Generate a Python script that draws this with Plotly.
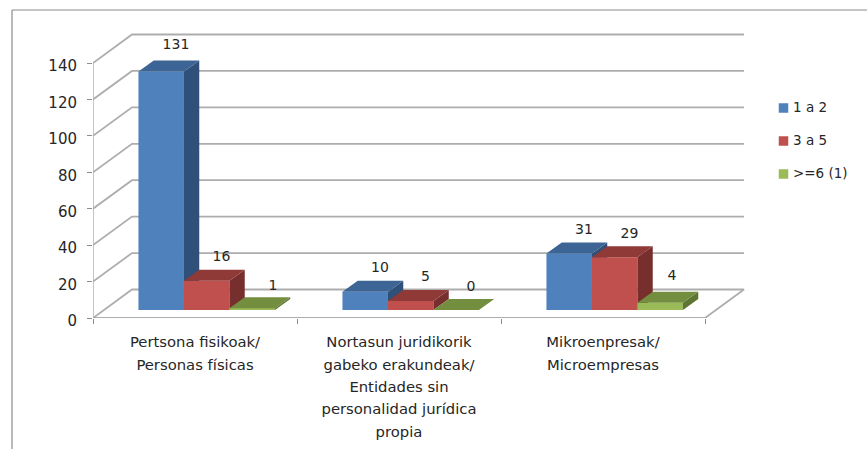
import plotly.graph_objects as go

categories = ["Pertsona fisikoak/<br>Personas físicas",
              "Nortasun juridikorik<br>gabeko erakundeak/<br>Entidades sin<br>personalidad jurídica<br>propia",
              "Mikroenpresak/<br>Microempresas"]
series_names = ["1 a 2", "3 a 5", ">=6 (1)"]
values_1a2 = [131, 10, 31]
values_3a5 = [16, 5, 29]
values_6plus = [1, 0, 4]
y_ticks = [0, 20, 40, 60, 80, 100, 120, 140]

W, H = 867, 449
L, R, T, B = 93, 867, 26, 318           # plot rectangle in pixels
X_PX = 204.0                            # pixels per category
Y_PX = 255 / 140                        # pixels per value unit
x_lo = -0.5
x_hi = x_lo + (R - L) / X_PX
y_hi = (B - T) / Y_PX

wall_dx, wall_dy = 39 / X_PX, 28.5 / Y_PX   # depth of the floor
bar_dx, bar_dy = 15.3 / X_PX, 11 / Y_PX     # depth of a bar
floor = 8 / Y_PX                            # front of the bars above the axis
bar_w = 45.5 / X_PX
shift = 11.7 / X_PX
x_end = 2.5

grey = "#adadad"
INK = "#262626"
LAB = "DejaVu Sans"
front = ["#4F81BD", "#C0504D", "#9BBB59"]
top_c = ["#3C6494", "#8F3A37", "#748E3F"]
side_c = ["#2F5079", "#772F2D", "#5E7433"]
series = [values_1a2, values_3a5, values_6plus]
# small pixel nudges (right, up) of individual data labels: (series, category)
nudge = {(0, 0): (0, 3), (2, 0): (6, -1), (2, 2): (-3, 3)}

fig = go.Figure()

# walls and floor
def line(xs, ys, width=1.8):
    fig.add_trace(go.Scatter(x=xs, y=ys, mode="lines", showlegend=False, hoverinfo="skip",
                             cliponaxis=False, line=dict(color=grey, width=width)))

for v in y_ticks[1:]:
    line([x_lo, x_lo + wall_dx, x_end + wall_dx], [v, v + wall_dy, v + wall_dy])
line([x_lo, x_lo + wall_dx, x_end + wall_dx, x_end, x_lo], [0, wall_dy, wall_dy, 0, 0])
line([x_lo, x_lo], [0, y_ticks[-1]], 1.4)

# one overlay per series, so each series paints over the previous one
for s, vals in enumerate(series):
    ax = str(s + 2)
    xa, ya = "x" + ax, "y" + ax
    offset = shift - 1.5 * bar_w + s * bar_w
    fig.add_trace(go.Bar(x=[0, 1, 2], y=vals, base=[floor] * 3, width=bar_w, offset=offset,
                         marker=dict(color=front[s], line_width=0), showlegend=False,
                         name=series_names[s], xaxis=xa, yaxis=ya))
    for c, v in enumerate(vals):
        x0 = c + offset
        x1 = x0 + bar_w
        h = floor + v
        fig.add_trace(go.Scatter(
            x=[x1, x1, x1 + bar_dx, x1 + bar_dx, x1], y=[floor, h, h + bar_dy, floor + bar_dy, floor],
            mode="lines", fill="toself", fillcolor=side_c[s], line=dict(width=0),
            showlegend=False, hoverinfo="skip", xaxis=xa, yaxis=ya))
        fig.add_trace(go.Scatter(
            x=[x0, x1, x1 + bar_dx, x0 + bar_dx, x0], y=[h, h, h + bar_dy, h + bar_dy, h],
            mode="lines", fill="toself", fillcolor=top_c[s], line=dict(width=0),
            showlegend=False, hoverinfo="skip", xaxis=xa, yaxis=ya))
    fig.add_trace(go.Scatter(
        x=[c + offset + (37.5 + nudge.get((s, c), (0, 0))[0]) / X_PX for c in range(3)],
        y=[floor + v + bar_dy + (12 + nudge.get((s, c), (0, 0))[1]) / Y_PX for c, v in enumerate(vals)],
        text=[str(v) for v in vals], mode="text", showlegend=False, hoverinfo="skip",
        textfont=dict(family=LAB, size=14, color=INK), cliponaxis=False,
        xaxis="x4", yaxis="y4"))

# legend key: a square and its text, placed in the last overlay
LEG_X, LEG_TEXT_X, LEG_Y, LEG_STEP = 783.5, 793, 108, 33
for s, name in enumerate(series_names):
    y_leg = (B - (LEG_Y + s * LEG_STEP)) / Y_PX
    fig.add_trace(go.Scatter(
        x=[x_lo + (LEG_X - L) / X_PX], y=[y_leg], mode="markers", name=name,
        marker=dict(symbol="square", size=9.5, color=front[s]),
        showlegend=False, hoverinfo="skip", cliponaxis=False, xaxis="x4", yaxis="y4"))
    fig.add_trace(go.Scatter(
        x=[x_lo + (LEG_TEXT_X - L) / X_PX], y=[y_leg - 1 / Y_PX], mode="text", name=name,
        text=[name], textposition="middle right",
        textfont=dict(family=LAB, size=13.5, color=INK),
        showlegend=False, hoverinfo="skip", cliponaxis=False, xaxis="x4", yaxis="y4"))

layout_axes = {}
for i in (2, 3, 4):
    layout_axes[f"xaxis{i}"] = dict(overlaying="x", range=[x_lo, x_hi], visible=False, fixedrange=True)
    layout_axes[f"yaxis{i}"] = dict(overlaying="y", range=[0, y_hi], visible=False, fixedrange=True)

fig.update_layout(
    width=W, height=H, autosize=False,
    margin=dict(l=L, r=W - R, t=T, b=H - B, pad=0),
    paper_bgcolor="white", plot_bgcolor="white",
    barmode="overlay", hovermode=False, showlegend=False,
    xaxis=dict(range=[x_lo, x_hi], showgrid=False, zeroline=False, showline=False, automargin=False,
               tickmode="array", tickvals=[0, 1, 2],
               ticktext=["<br>".join(f'<span style="font-size:14.8px">{p}</span>' for p in c.split("<br>"))
                         for c in categories],
               ticks="", ticklabelstandoff=11,
               tickfont=dict(family=LAB, size=17.2, color=INK),
               minor=dict(tickmode="array", tickvals=[-0.5, 0.5, 1.5, 2.5], ticks="outside",
                          ticklen=5, tickcolor="#8c8c8c", tickwidth=1, showgrid=False),
               fixedrange=True),
    yaxis=dict(range=[0, y_hi], showgrid=False, zeroline=False, showline=False, automargin=False,
               tickmode="array", tickvals=y_ticks, ticks="outside", ticklen=5,
               tickcolor="#8c8c8c", tickwidth=1.2, ticklabelstandoff=7, ticklabelshift=3,
               tickfont=dict(family=LAB, size=15, color=INK), fixedrange=True),
    shapes=[dict(type="line", xref="paper", yref="paper",
                 x0=(12 - L) / (R - L), x1=(W - L) / (R - L),
                 y0=1 - (10 - T) / (B - T), y1=1 - (10 - T) / (B - T),
                 line=dict(color="#8c8c8c", width=1.2)),
            dict(type="line", xref="paper", yref="paper",
                 x0=(12 - L) / (R - L), x1=(12 - L) / (R - L),
                 y0=1 - (10 - T) / (B - T), y1=1 - (H - T) / (B - T),
                 line=dict(color="#8c8c8c", width=1.2))],
    **layout_axes,
)

fig.write_html("out.html", post_script="document.body.style.margin='0';document.documentElement.style.overflow='hidden';",
               config={"displayModeBar": False})
